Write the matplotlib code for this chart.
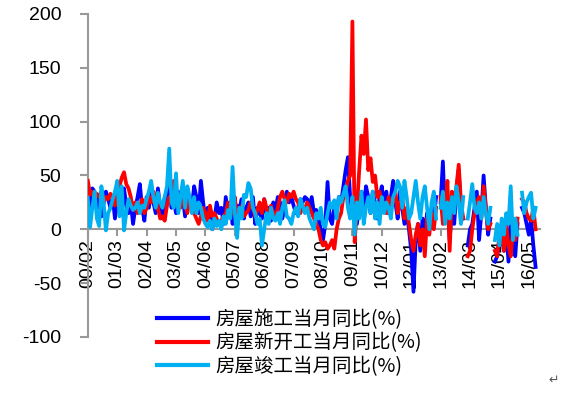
import numpy as np
import matplotlib
matplotlib.use("Agg")
import matplotlib.pyplot as plt

nan = np.nan
tick_labels = ["00/02", "01/03", "02/04", "03/05", "04/06", "05/07", "06/08", "07/09",
               "08/10", "09/11", "10/12", "12/01", "13/02", "14/03", "15/04", "16/05"]

# monthly, 2000-02 .. 2016-08
construction = [
    15, 25, 38, 35, 20, 30, 12, 25, 35, 28, 20,
    30, 10, 25, 35, 18, 38, 22, 15, 25, 5, 20, 30,
    42, 20, 8, 30, 20, 35, 25, 15, 38, 20, 10, 30,
    25, 40, 20, 28, 15, 35, 22, 30, 12, 38, 25, 20,
    40, 30, 15, 45, 25, 8, 20, 12, 0, 10, 25, 15,
    20, 5, 30, 12, 25, 5, 15, 22, 18, 28, 10, 20,
    25, 12, 30, 5, 20, 15, 10, 28, 15, 20, 8, 25,
    18, 30, 25, 10, 20, 35, 25, 30, 22, 15, 20, 28,
    25, 30, 28, 20, 30, 15, 18, 10, 0, -10, 5, 44,
    10, 5, 20, 15, 30, 25, 40, 55, 67, 30, 12, 20,
    5, 25, 35, 20, 40, 30, 15, 35, 25, 10, 30, 40,
    20, 35, 15, 30, 45, 25, 10, 35, 20, 5, 15, 0,
    -20, -58, -10, 5, -20, 10, -5, 15, 5, 20, 10, 30,
    nan, 25, 63, 10, 30, -10, 20, 5, 35, 55, 15, 10,
    nan, -15, 0, 5, 20, 35, -10, 15, 50, 20, -5, 10,
    nan, -30, -25, -10, 5, -20, 0, -30, 10, -15, -25, 5,
    nan, 20, 15, 5, -5, 10, -15, -35,
]
new_starts = [
    45, 32, 35, 28, 33, 30, 35, 25, 30, 28, 33,
    30, 22, 35, 40, 48, 53, 42, 38, 30, 18, 25, 15,
    20, 28, 15, 20, 30, 25, 35, 28, 20, 10, 12, 8,
    22, 30, 25, 45, 35, 28, 20, 30, 25, 15, 28, 20,
    15, 10, 5, 12, 20, 15, 8, 22, 12, 15, 10, 5,
    8, 12, 15, 25, 12, 18, 30, 10, 18, 22, 12, 15,
    18, 25, 20, 12, 18, 25, 15, 28, 20, 10, 22, 15,
    12, 20, 30, 35, 28, 25, 33, 30, 35, 28, 25, 15,
    22, 18, 25, 20, 15, 10, 5, 0, -10, -15, -12, -18,
    -15, -10, -18, 0, 10, 15, 30, 35, 45, 50, 193, -12,
    20, 55, 87, 70, 102, 55, 66, 44, 50, 30, 35, 20,
    25, 15, 30, 20, 28, 35, 15, 25, 30, 10, 20, 5,
    -10, -20, -5, 5, -15, 0, -25, 10, -5, 15, 0, 20,
    nan, 30, 5, 15, 45, -20, 35, 20, 40, 60, 25, 10,
    nan, -25, -20, 0, 15, 25, 30, 10, 40, 20, 0, 5,
    nan, -20, -25, -5, 0, -20, 5, -15, -25, 0, -10, 10,
    nan, 28, 25, 15, 10, 8, 20, 0,
]
completions = [
    29, 2, 20, 35, 10, 3, 40, 25, -1, 15, 20,
    28, 35, 45, 12, 40, -1, 15, 28, 22, 18, 20, 25,
    15, 22, 20, 28, 35, 45, 30, 20, 34, 25, 20, 30,
    40, 75, 25, 20, 52, 15, 30, 45, 20, 40, 30, 15,
    30, 15, 25, 20, 10, 5, 2, 8, 0, 10, 3, 8,
    0, 12, 5, 18, 10, 58, 15, -8, 20, 10, 32, 30,
    43, 38, 20, 15, 5, 10, -15, 0, 15, 5, 20, 10,
    8, 15, 5, 20, 27, 12, 10, 5, 15, 20, 12, 28,
    22, 15, 20, 10, 5, 0, 15, 10, 20, 5, 2, 15,
    25, 20, 27, 10, 30, 25, 33, 40, 20, 10, 30, -5,
    25, 10, 35, 5, 20, 30, 15, 35, 10, 25, 5, 30,
    15, 25, 20, 10, 30, 35, 45, 40, 20, 45, 30, 10,
    15, 30, 45, 25, 10, 30, 40, 20, 0, 25, 35, 10,
    nan, 20, 35, 5, 25, 10, 30, 15, 40, 25, 5, 30,
    nan, 10, 25, 42, 20, 15, 25, 10, 30, 15, 5, 20,
    nan, -10, 5, -15, 10, -5, 15, 5, 40, -10, 10, -5,
    nan, 34, 15, 25, 30, 34, 10, 20,
]
series_names = ["房屋施工当月同比(%)", "房屋新开工当月同比(%)", "房屋竣工当月同比(%)"]
colors = ["#0000FF", "#FF0000", "#00B0F0"]

plt.rcParams['font.family'] = ['Liberation Sans', 'DejaVu Sans']
plt.rcParams['axes.unicode_minus'] = False

fig = plt.figure(figsize=(5.74, 3.94), dpi=100)
ax = fig.add_axes([0.153, 0.1447, 0.788, 0.8198])

x = np.arange(len(construction))
lines = []
for vals, c, name in zip([construction, new_starts, completions], colors, series_names):
    l, = ax.plot(x, vals, color=c, lw=2.7, label=name, zorder=3)
    lines.append(l)

for s in ["top", "right"]:
    ax.spines[s].set_visible(False)
ax.spines["bottom"].set_position(("data", 0))
ax.spines["bottom"].set_color("#999999")
ax.spines["left"].set_color("#999999")
ax.spines["bottom"].set_linewidth(1.5)
ax.spines["left"].set_linewidth(1.5)
ax.spines["bottom"].set_zorder(2)

ax.set_xlim(0, 200)
ax.set_ylim(-100, 200)
ax.set_yticks([-100, -50, 0, 50, 100, 150, 200])
ax.set_xticks(np.arange(0, 13 * len(tick_labels), 13))
ax.set_xticklabels(tick_labels, rotation=90, fontsize=14)
ax.tick_params(axis="y", direction="out", length=6, width=1.5, color="#999999",
               labelsize=14, pad=13)
ax.tick_params(axis="x", direction="out", length=5, width=1.5, color="#999999",
               labelsize=14, pad=2)

leg = fig.legend(handles=lines, labels=series_names, loc="upper left",
                 bbox_to_anchor=(0.26, 0.235), frameon=False,
                 prop={'family': ['Noto Sans CJK SC', 'DejaVu Sans'], 'size': 14},
                 handlelength=2.6, handletextpad=0.4, labelspacing=0.12,
                 borderaxespad=0)
for lh in leg.get_lines():
    lh.set_linewidth(3)

fig.text(0.965, 0.035, "↵", fontsize=9, color="#555555",
         family=['DejaVu Sans'], ha='center', va='center')

fig.savefig("out.png", dpi=100)
